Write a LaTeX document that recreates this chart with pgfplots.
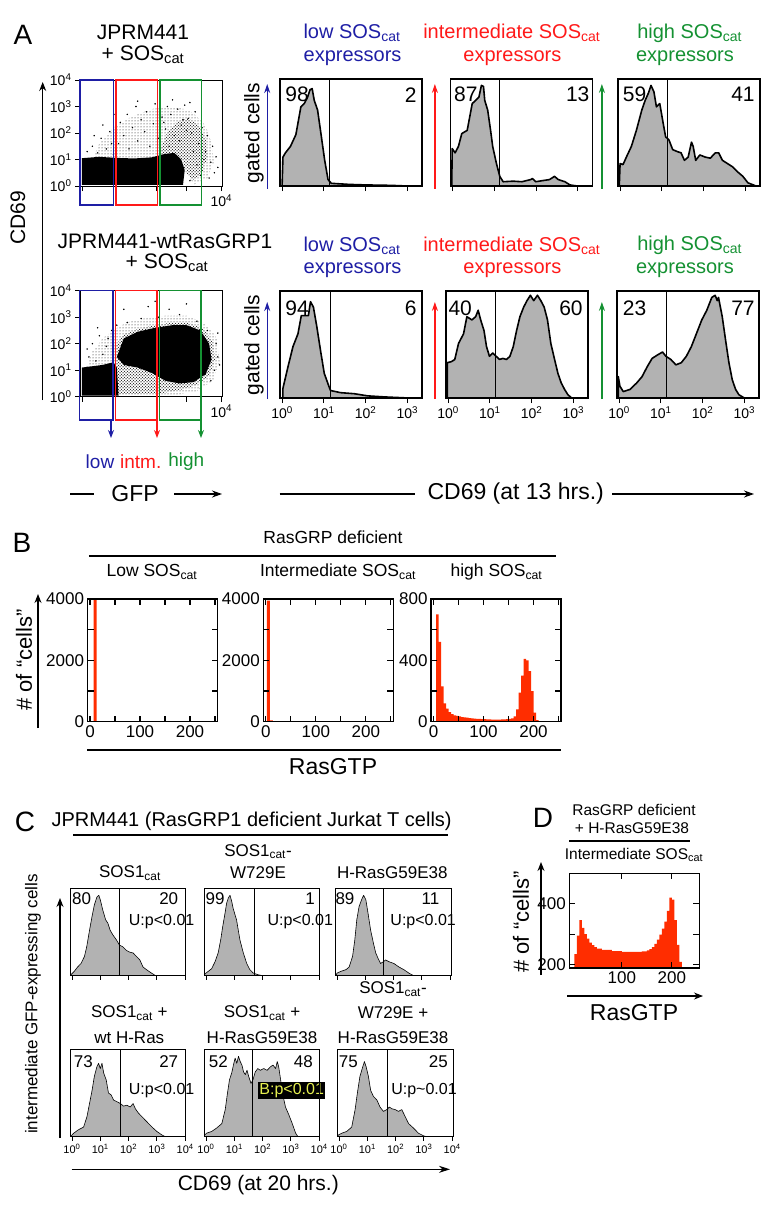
\documentclass[border=0pt]{standalone}
\usepackage{fontspec}
\setmainfont{Liberation Sans}
\usepackage{pgfplots}
\pgfplotsset{compat=1.18}
\usetikzlibrary{arrows.meta,patterns}

\definecolor{gblue}{RGB}{30,30,165}
\definecolor{gred}{RGB}{255,25,25}
\definecolor{ggreen}{RGB}{20,145,50}
\definecolor{hgray}{RGB}{178,178,178}
\definecolor{bred}{RGB}{255,45,0}
\definecolor{ylw}{RGB}{230,240,80}

\newcommand{\fs}[1]{\fontsize{#1pt}{#1pt}\selectfont}
\newcommand{\cat}{\textsubscript{cat}}
\newcommand{\dec}[1]{10\textsuperscript{#1}}

\tikzset{numA/.style={font=\fs{21}}, numC/.style={font=\fs{17}}, uC/.style={font=\fs{16}}}

\pgfplotsset{
  every axis/.append style={scale only axis, anchor=north west, axis on top, clip mode=individual},
  histA/.style={width=142pt, height=107pt, xmin=-0.05, xmax=3.35, ymin=0, ymax=1,
    ytick=\empty, xtick={0,1,2,3}, xticklabels={,,,}, xtick pos=left, tick align=outside,
    major tick length=5pt, axis line style={line width=1.6pt}, tick style={black,line width=1.1pt},
    tick label style={font=\fs{14}}},
  histAlab/.style={histA, xticklabels={\dec0,\dec1,\dec2,\dec3}},
  curveA/.style={draw=black, line width=1.6pt, fill=hgray, line join=round},
  scat/.style={width=142pt, height=106pt, xmin=-0.057, xmax=4.02, ymin=0, ymax=4,
    ytick={0,1,2,3,4}, yticklabels={\dec0,\dec1,\dec2,\dec3,\dec4},
    xtick={0,2.15,3,4}, xticklabels={,,,\dec4}, xtick pos=left, ytick pos=left,
    tick align=outside, major tick length=5pt, axis line style={line width=1pt},
    tick style={black,line width=0.9pt}, tick label style={font=\fs{14}}},
  histB/.style={width=130pt, height=122.7pt, xmin=-5, xmax=255, ymin=0,
    xtick={0,100,200}, xticklabels={0,100,200}, minor xtick={50,150,250},
    tick align=inside, major tick length=6pt, minor tick length=6pt,
    axis line style={line width=1.5pt}, tick style={black,line width=1.1pt},
    tick label style={font=\fs{17}}},
  histC/.style={width=116pt, height=87.4pt, xmin=-0.07, xmax=4.03, ymin=0, ymax=1,
    ytick=\empty, xtick={0,1,2,3,4}, xticklabels={,,,,}, xtick pos=left, tick align=outside,
    major tick length=4pt, axis line style={line width=1pt}, tick style={black,line width=0.8pt},
    tick label style={font=\fs{11}}},
  histClab/.style={histC, xticklabels={\dec0,\dec1,\dec2,\dec3,\dec4}},
  curveC/.style={draw=black, line width=0.6pt, fill=hgray, line join=round},
  sparse/.style={pattern=dots, pattern color=black, draw=none},
  medium/.style={pattern=crosshatch dots, pattern color=black, draw=none},
}

\begin{document}
\begin{tikzpicture}
\path[use as bounding box] (0pt,0pt) rectangle (772pt,-1207pt);

% ================= Panel A: scatter plots =================
\begin{axis}[scat, at={(80pt,-80pt)}]
\addplot[sparse] coordinates {(0.3,1.0)(0.5,1.6)(0.9,2.2)(1.4,2.6)(2.0,2.9)(2.6,3.0)(3.1,2.85)(3.5,2.4)(3.72,1.7)(3.78,0.9)(3.6,0.3)(3.2,0.05)(2.9,1.0)};
\addplot[medium] coordinates {(2.2,1.1)(2.4,1.9)(2.7,2.4)(3.05,2.55)(3.35,2.3)(3.55,1.8)(3.6,1.1)(3.45,0.5)(3.15,0.2)(2.95,0.6)(2.7,1.1)};
\addplot[fill=black, draw=none] coordinates {(0,0.04)(0,1.05)(0.5,1.1)(1.0,1.06)(1.5,1.04)(2.0,1.08)(2.35,1.2)(2.65,1.25)(2.85,1.0)(2.95,0.6)(2.9,0.04)};
\addplot[only marks, mark=*, mark size=0.5pt] coordinates {
(0.15,1.3)(0.3,1.5)(0.45,1.25)(0.55,1.8)(0.7,1.4)(0.8,2.05)(0.85,1.6)(0.6,2.3)(0.9,1.2)(0.35,1.9)
(1.05,1.6)(1.1,2.4)(1.2,1.9)(1.3,2.7)(1.35,1.4)(1.45,2.2)(1.55,3.0)(1.6,1.7)(1.7,2.5)(1.8,2.05)
(1.85,2.8)(1.95,1.5)(2.05,2.35)(2.1,3.1)(2.2,1.8)(2.3,2.6)(2.4,2.15)(2.45,3.0)(2.55,2.7)(2.65,1.9)
(2.75,2.9)(2.85,2.3)(2.95,3.05)(3.05,2.55)(3.15,2.0)(3.25,2.8)(3.35,1.6)(3.45,2.2)(3.55,1.3)(3.6,1.9)
(3.7,0.9)(3.75,1.5)(3.8,0.5)(3.85,1.1)(3.65,0.3)(3.9,0.7)(3.1,0.2)(3.3,0.8)(3.4,0.4)(3.5,1.0)
(3.2,1.3)(1.6,3.2)(2.6,3.25)(0.95,2.7)(3.1,3.15)(2.5,1.5)(2.8,1.7)(3.0,2.1)(2.35,2.4)(2.9,2.5)};
\end{axis}

\begin{axis}[scat, at={(80pt,-290.7pt)}]
\addplot[sparse] coordinates {(0.1,1.0)(0.3,1.7)(0.6,2.2)(0.95,2.55)(1.3,2.8)(1.8,2.95)(2.4,3.05)(3.0,3.05)(3.5,2.8)(3.88,2.2)(3.95,1.3)(3.75,0.6)(3.3,0.2)(2.6,0.05)(1.0,0.05)};
\addplot[medium] coordinates {(0.95,0.1)(0.95,1.9)(1.2,2.35)(1.6,2.55)(2.1,2.7)(2.6,2.8)(3.0,2.8)(3.45,2.6)(3.75,2.1)(3.82,1.4)(3.65,0.8)(3.3,0.45)(2.8,0.25)(2.2,0.12)};
\addplot[fill=black, draw=none] coordinates {(1.0,1.5)(1.2,2.2)(1.6,2.45)(2.1,2.6)(2.6,2.7)(3.0,2.7)(3.4,2.5)(3.65,2.0)(3.72,1.4)(3.55,0.85)(3.2,0.55)(2.8,0.5)(2.4,0.6)(2.0,0.9)(1.6,1.1)(1.2,1.2)};
\addplot[fill=black, draw=none] coordinates {(0,0.04)(0,1.1)(0.3,1.15)(0.6,1.2)(0.9,1.3)(1.0,1.1)(1.05,0.04)};
\addplot[only marks, mark=*, mark size=0.5pt] coordinates {
(0.3,2.0)(0.5,2.3)(0.7,1.9)(0.85,2.5)(0.2,1.5)(0.6,1.6)(1.0,2.7)(1.3,2.8)(1.7,2.95)(2.2,3.0)
(2.8,3.1)(3.3,2.85)(3.6,2.5)(3.85,2.0)(3.9,1.5)(3.8,1.0)(3.7,0.6)(3.4,0.3)(3.9,2.4)(2.5,3.3)
(1.9,3.4)(3.0,3.5)(3.5,0.9)(3.95,1.2)(0.15,1.8)(0.45,2.6)(2.1,3.6)(1.2,3.3)(0.4,1.35)(0.75,2.2)};
\end{axis}

% ================= Panel A: histograms, top row =================
\begin{axis}[histA, at={(280pt,-79pt)}]
\addplot[curveA] coordinates {(0,0)(0.02,0.27)(0.08,0.31)(0.20,0.37)(0.33,0.48)(0.45,0.74)(0.53,0.77)(0.61,0.83)(0.67,0.90)(0.72,0.91)(0.77,0.80)(0.85,0.71)(0.93,0.49)(1.02,0.24)(1.10,0.06)(1.18,0.025)(1.6,0.015)(2.0,0.01)(2.6,0.006)(3.0,0)} \closedcycle;
\addplot[black, line width=1pt] coordinates {(1.14,0)(1.14,1)};
\node[numA] at (rel axis cs:0.12,0.853) {98};
\node[numA] at (rel axis cs:0.92,0.853) {2};
\end{axis}

\begin{axis}[histA, at={(450.5pt,-79pt)}]
\addplot[curveA] coordinates {(-0.02,0)(-0.01,0.35)(0.06,0.31)(0.14,0.37)(0.22,0.49)(0.35,0.52)(0.47,0.77)(0.55,0.80)(0.63,0.83)(0.69,0.94)(0.74,0.93)(0.77,0.80)(0.84,0.71)(0.91,0.52)(0.96,0.37)(1.05,0.21)(1.13,0.09)(1.21,0.04)(1.45,0.045)(1.66,0.04)(1.87,0.06)(1.91,0.07)(1.99,0.04)(2.15,0.05)(2.32,0.06)(2.44,0.09)(2.53,0.06)(2.69,0.04)(2.81,0.01)(2.98,0)} \closedcycle;
\addplot[black, line width=1pt] coordinates {(1.13,0)(1.13,1)};
\node[numA] at (rel axis cs:0.108,0.853) {87};
\node[numA] at (rel axis cs:0.896,0.853) {13};
\end{axis}

\begin{axis}[histA, at={(618pt,-79pt)}]
\addplot[curveA] coordinates {(-0.02,0)(0.00,0.21)(0.07,0.20)(0.15,0.27)(0.27,0.37)(0.39,0.52)(0.52,0.71)(0.60,0.80)(0.68,0.87)(0.74,0.94)(0.81,0.88)(0.87,0.74)(0.95,0.77)(1.03,0.59)(1.09,0.46)(1.17,0.43)(1.26,0.34)(1.38,0.32)(1.46,0.31)(1.54,0.24)(1.63,0.27)(1.71,0.41)(1.75,0.37)(1.81,0.24)(1.91,0.29)(2.04,0.27)(2.16,0.26)(2.28,0.31)(2.36,0.31)(2.45,0.24)(2.57,0.21)(2.69,0.18)(2.82,0.13)(2.94,0.09)(3.06,0.03)(3.19,0.01)(3.25,0)} \closedcycle;
\addplot[black, line width=1pt] coordinates {(1.13,0)(1.13,1)};
\node[numA] at (rel axis cs:0.117,0.853) {59};
\node[numA] at (rel axis cs:0.88,0.853) {41};
\end{axis}

% ================= Panel A: histograms, bottom row =================
\begin{axis}[histAlab, at={(280pt,-291pt)}]
\addplot[curveA] coordinates {(0.02,0)(0.02,0.09)(0.14,0.29)(0.26,0.48)(0.38,0.60)(0.46,0.77)(0.63,0.77)(0.68,0.90)(0.75,0.85)(0.83,0.67)(0.93,0.42)(1.01,0.23)(1.12,0.11)(1.16,0.07)(1.40,0.05)(1.73,0.04)(2.05,0.02)(2.46,0.01)(3.03,0)} \closedcycle;
\addplot[black, line width=1pt] coordinates {(1.16,0)(1.16,1)};
\node[numA] at (rel axis cs:0.12,0.843) {94};
\node[numA] at (rel axis cs:0.92,0.843) {6};
\end{axis}

\begin{axis}[histAlab, at={(446pt,-291pt)}]
\addplot[curveA] coordinates {(-0.02,0)(-0.02,0.33)(0.08,0.34)(0.16,0.36)(0.25,0.51)(0.37,0.60)(0.45,0.76)(0.57,0.73)(0.66,0.76)(0.72,0.82)(0.78,0.73)(0.86,0.63)(0.92,0.48)(0.99,0.39)(1.07,0.42)(1.15,0.39)(1.23,0.36)(1.31,0.37)(1.40,0.36)(1.48,0.39)(1.56,0.48)(1.64,0.63)(1.72,0.76)(1.81,0.85)(1.89,0.91)(1.97,0.96)(2.05,0.91)(2.14,0.96)(2.22,0.91)(2.30,0.85)(2.38,0.73)(2.46,0.51)(2.55,0.36)(2.63,0.23)(2.71,0.14)(2.79,0.08)(2.87,0.03)(2.96,0)} \closedcycle;
\addplot[black, line width=1pt] coordinates {(1.13,0)(1.13,1)};
\node[numA] at (rel axis cs:0.10,0.843) {40};
\node[numA] at (rel axis cs:0.88,0.843) {60};
\end{axis}

\begin{axis}[histAlab, at={(617pt,-291pt)}]
\addplot[curveA] coordinates {(-0.02,0)(-0.02,0.20)(0.02,0.11)(0.10,0.06)(0.26,0.08)(0.42,0.14)(0.55,0.20)(0.67,0.29)(0.79,0.37)(0.91,0.40)(1.04,0.43)(1.12,0.39)(1.24,0.36)(1.36,0.31)(1.49,0.33)(1.61,0.39)(1.73,0.48)(1.85,0.60)(1.98,0.73)(2.10,0.82)(2.22,0.94)(2.30,0.96)(2.35,0.91)(2.38,0.94)(2.47,0.76)(2.55,0.54)(2.63,0.33)(2.71,0.17)(2.79,0.08)(2.87,0.03)(3.00,0)} \closedcycle;
\addplot[black, line width=1pt] coordinates {(1.14,0)(1.14,1)};
\node[numA] at (rel axis cs:0.124,0.843) {23};
\node[numA] at (rel axis cs:0.887,0.843) {77};
\end{axis}

% ================= Panel B =================
\begin{axis}[histB, at={(87.5pt,-599pt)}, ymax=4000, ytick={0,2000,4000}, yticklabels={0,2000,4000}, minor ytick={1000,3000}]
\addplot[const plot, fill=bred, draw=none] coordinates {(0,0)(7,4100)(13,0)(20,0)} \closedcycle;
\end{axis}

\begin{axis}[histB, at={(263.3pt,-599pt)}, ymax=4000, ytick={0,2000,4000}, yticklabels={0,2000,4000}, minor ytick={1000,3000}]
\addplot[const plot, fill=bred, draw=none] coordinates {(0,0)(2,3950)(8,40)(14,0)(20,0)} \closedcycle;
\end{axis}

\begin{axis}[histB, at={(431pt,-599pt)}, ymax=800, ytick={0,400,800}, yticklabels={0,400,800}, minor ytick={200,600}]
\addplot[const plot, fill=bred, draw=none] coordinates {(0,0)(5,700)(10,520)(15,230)(20,120)(25,85)(30,62)(35,50)(40,42)(45,38)(50,34)(55,30)(60,28)(65,26)(70,24)(75,22)(80,20)(85,19)(90,18)(95,17)(100,16)(105,15)(110,15)(115,14)(120,14)(125,14)(130,14)(135,15)(140,15)(145,16)(150,18)(155,22)(160,35)(165,80)(170,190)(175,300)(180,410)(185,400)(190,330)(195,200)(200,60)(205,10)(210,0)} \closedcycle;
\end{axis}

% ================= Panel C =================
\begin{axis}[histC, at={(70pt,-888.3pt)}]
\addplot[curveC] coordinates {(-0.07,0)(-0.04,0.01)(0.08,0.05)(0.20,0.10)(0.32,0.14)(0.44,0.22)(0.52,0.33)(0.62,0.52)(0.71,0.68)(0.79,0.81)(0.88,0.90)(0.95,0.92)(1.00,0.87)(1.09,0.75)(1.19,0.64)(1.27,0.60)(1.35,0.52)(1.44,0.47)(1.57,0.41)(1.68,0.35)(1.80,0.33)(1.92,0.29)(2.04,0.27)(2.16,0.26)(2.28,0.22)(2.40,0.18)(2.51,0.10)(2.63,0.07)(2.81,0.03)(2.96,0)} \closedcycle;
\addplot[black, line width=0.8pt] coordinates {(1.66,0)(1.66,1)};
\node[numC] at (rel axis cs:0.10,0.878) {80};
\node[numC, anchor=east] at (rel axis cs:0.963,0.878) {20};
\node[uC] at (rel axis cs:0.79,0.62) {U:p<0.01};
\end{axis}

\begin{axis}[histC, at={(204pt,-888.3pt)}]
\addplot[curveC] coordinates {(-0.04,0)(-0.04,0.02)(0.08,0.05)(0.20,0.08)(0.32,0.16)(0.43,0.26)(0.52,0.41)(0.59,0.56)(0.67,0.71)(0.73,0.83)(0.79,0.89)(0.85,0.92)(0.91,0.85)(0.96,0.77)(1.08,0.64)(1.20,0.41)(1.32,0.26)(1.44,0.14)(1.55,0.07)(1.67,0.03)(1.85,0.01)(2.02,0)} \closedcycle;
\addplot[black, line width=0.8pt] coordinates {(1.70,0)(1.70,1)};
\node[numC] at (rel axis cs:0.095,0.878) {99};
\node[numC, anchor=east] at (rel axis cs:0.985,0.878) {1};
\node[uC] at (rel axis cs:0.83,0.62) {U:p<0.01};
\end{axis}

\begin{axis}[histC, at={(335pt,-888.3pt)}]
\addplot[curveC] coordinates {(-0.04,0)(0.00,0.03)(0.14,0.05)(0.32,0.07)(0.43,0.10)(0.55,0.22)(0.63,0.41)(0.70,0.64)(0.78,0.79)(0.87,0.87)(0.94,0.92)(1.02,0.87)(1.10,0.71)(1.19,0.52)(1.29,0.37)(1.37,0.26)(1.45,0.20)(1.54,0.14)(1.64,0.16)(1.72,0.18)(1.84,0.16)(2.01,0.14)(2.19,0.10)(2.36,0.07)(2.54,0.03)(2.71,0)} \closedcycle;
\addplot[black, line width=0.8pt] coordinates {(1.64,0)(1.64,1)};
\node[numC] at (rel axis cs:0.086,0.878) {89};
\node[numC, anchor=east] at (rel axis cs:0.93,0.878) {11};
\node[uC] at (rel axis cs:0.76,0.62) {U:p<0.01};
\end{axis}

\begin{axis}[histClab, at={(70pt,-1049.3pt)}]
\addplot[curveC] coordinates {(-0.04,0)(0,0.02)(0.06,0.04)(0.23,0.08)(0.41,0.11)(0.53,0.23)(0.62,0.38)(0.71,0.53)(0.79,0.69)(0.88,0.80)(0.94,0.84)(1.00,0.78)(1.06,0.84)(1.12,0.73)(1.21,0.65)(1.29,0.50)(1.38,0.48)(1.47,0.42)(1.59,0.40)(1.71,0.38)(1.82,0.35)(1.94,0.36)(2.06,0.34)(2.16,0.38)(2.24,0.32)(2.35,0.27)(2.47,0.23)(2.65,0.17)(2.83,0.11)(3.00,0.06)(3.18,0.02)(3.30,0)} \closedcycle;
\addplot[black, line width=0.8pt] coordinates {(1.72,0)(1.72,1)};
\node[numC] at (rel axis cs:0.115,0.858) {73};
\node[numC, anchor=east] at (rel axis cs:0.963,0.858) {27};
\node[uC] at (rel axis cs:0.79,0.526) {U:p<0.01};
\end{axis}

\begin{axis}[histClab, at={(204pt,-1049.3pt)}]
\addplot[curveC] coordinates {(-0.06,0)(-0.04,0.02)(0.02,0.04)(0.20,0.06)(0.38,0.10)(0.56,0.15)(0.68,0.31)(0.76,0.50)(0.83,0.65)(0.91,0.73)(0.97,0.82)(1.03,0.90)(1.09,0.84)(1.15,0.92)(1.21,0.86)(1.27,0.82)(1.33,0.74)(1.39,0.71)(1.45,0.76)(1.51,0.69)(1.59,0.61)(1.66,0.65)(1.74,0.74)(1.83,0.78)(1.92,0.76)(2.04,0.78)(2.16,0.76)(2.28,0.80)(2.37,0.82)(2.46,0.78)(2.52,0.86)(2.57,0.80)(2.63,0.67)(2.73,0.46)(2.81,0.34)(2.93,0.25)(3.05,0.15)(3.17,0.04)(3.25,0)} \closedcycle;
\addplot[black, line width=0.8pt] coordinates {(1.65,0)(1.65,1)};
\node[numC] at (rel axis cs:0.123,0.858) {52};
\node[numC] at (rel axis cs:0.856,0.858) {48};
\node[uC, fill=black, text=ylw, inner sep=1.5pt] at (rel axis cs:0.756,0.526) {B:p<0.01};
\end{axis}

\begin{axis}[histClab, at={(337pt,-1049.3pt)}]
\addplot[curveC] coordinates {(-0.05,0)(-0.02,0.02)(0.10,0.04)(0.27,0.06)(0.45,0.11)(0.57,0.31)(0.65,0.50)(0.74,0.69)(0.84,0.80)(0.90,0.86)(0.96,0.80)(1.04,0.69)(1.12,0.53)(1.22,0.46)(1.34,0.42)(1.45,0.34)(1.57,0.29)(1.69,0.31)(1.78,0.34)(1.87,0.32)(1.99,0.31)(2.10,0.29)(2.22,0.31)(2.34,0.23)(2.46,0.15)(2.63,0.10)(2.81,0.04)(2.99,0.01)(3.11,0)} \closedcycle;
\addplot[black, line width=0.8pt] coordinates {(1.70,0)(1.70,1)};
\node[numC] at (rel axis cs:0.097,0.858) {75};
\node[numC] at (rel axis cs:0.873,0.858) {25};
\node[uC] at (rel axis cs:0.75,0.526) {U:p\textasciitilde0.01};
\end{axis}

% ================= Panel D =================
\begin{axis}[histB, at={(569.3pt,-873.3pt)}, height=94.7pt, ymin=190, ymax=497,
  xtick={100,200}, xticklabels={100,200}, minor xtick={}, ytick={200,400}, yticklabels={200,400}, minor ytick={300}]
\addplot[const plot, fill=bred, draw=none] coordinates {(0,0)(5,235)(10,295)(15,345)(20,320)(25,300)(30,285)(35,272)(40,264)(45,258)(50,253)(60,249)(80,245)(100,242)(120,242)(140,244)(150,247)(155,251)(160,258)(165,268)(170,282)(175,298)(180,318)(185,340)(190,375)(195,418)(200,412)(205,345)(210,265)(215,210)(220,0)(225,0)} \closedcycle;
\end{axis}

% ================= Annotations =================
\begin{scope}[x=1pt, y=-1pt]
% Panel A labels
\node[font=\fs{28}] at (23,35) {A};
\node[font=\fs{21}] at (143,32) {JPRM441};
\node[font=\fs{21}] at (143,55) {+ SOS\cat};
\node[font=\fs{21}] at (165,241) {JPRM441-wtRasGRP1};
\node[font=\fs{21}] at (167,263) {+ SOS\cat};
\node[font=\fs{21}, rotate=90] at (18,218) {CD69};
\draw[line width=1.2pt, -{Stealth[length=9pt,width=7pt]}] (42.7,400) -- (42.7,82);
% gates
\draw[gblue, line width=1.3pt] (80,80) rectangle (113.3,205);
\draw[gred, line width=1.3pt] (116,80) rectangle (157.3,205);
\draw[ggreen, line width=1.3pt] (160,80) rectangle (201.3,205);
\draw[gblue, line width=1.3pt] (79.5,290.5) rectangle (113,420);
\draw[gred, line width=1.3pt] (115.7,290.5) rectangle (157,420);
\draw[ggreen, line width=1.3pt] (159.3,290.5) rectangle (201,420);
\draw[gblue, line width=1.3pt, -{Stealth[length=8pt,width=6pt]}] (111,420) -- (111,438);
\draw[gred, line width=1.3pt, -{Stealth[length=8pt,width=6pt]}] (157,420) -- (157,438);
\draw[ggreen, line width=1.3pt, -{Stealth[length=8pt,width=6pt]}] (201,420) -- (201,438);
\node[font=\fs{19}, text=gblue] at (100,462) {low};
\node[font=\fs{19}, text=gred] at (140.7,462) {intm.};
\node[font=\fs{19}, text=ggreen] at (186.3,462) {high};
\draw[line width=1.2pt] (70.4,494) -- (94.4,494);
\node[font=\fs{23}] at (135,494) {GFP};
\draw[line width=1.2pt, -{Stealth[length=10pt,width=7pt]}] (174,494) -- (222,494);
\draw[line width=1.2pt] (279.6,494) -- (414.8,494);
\node[font=\fs{23}, anchor=west] at (424,494) {CD69 (at 13 hrs.)};
\draw[line width=1.2pt, -{Stealth[length=10pt,width=7pt]}] (612,494) -- (754,494);
% histogram titles
\foreach \yy/\zz in {33/58, 245.5/270}{
  \node[font=\fs{20}, text=gblue] at (352,\yy) {low SOS\cat};
  \node[font=\fs{20}, text=gblue] at (352.6,\zz) {expressors};
  \node[font=\fs{20}, text=gred] at (511.8,\yy) {intermediate SOS\cat};
  \node[font=\fs{20}, text=gred] at (512.4,\zz) {expressors};
  \node[font=\fs{20}, text=ggreen] at (689.7,\yy) {high SOS\cat};
  \node[font=\fs{20}, text=ggreen] at (685,\zz) {expressors};
}
\node[font=\fs{21}, rotate=90] at (254,133) {gated cells};
\node[font=\fs{21}, rotate=90] at (254,345) {gated cells};
\foreach \ya/\yb in {188.7/84, 399/302}{
  \draw[gblue, line width=1.2pt, -{Stealth[length=9pt,width=6pt]}] (267.2,\ya) -- (267.2,\yb);
  \draw[gred, line width=1.2pt, -{Stealth[length=9pt,width=6pt]}] (434.9,\ya) -- (434.9,\yb);
  \draw[ggreen, line width=1.2pt, -{Stealth[length=9pt,width=6pt]}] (601.9,\ya) -- (601.9,\yb);
}
% Panel B labels
\node[font=\fs{28}] at (22,543) {B};
\node[font=\fs{17.5}] at (333,537) {RasGRP deficient};
\draw[line width=1.2pt] (88.9,556) -- (555.6,556);
\node[font=\fs{17.5}] at (152,572) {Low SOS\cat};
\node[font=\fs{17.5}] at (338,572) {Intermediate SOS\cat};
\node[font=\fs{17.5}] at (496.5,572) {high SOS\cat};
\node[font=\fs{22}, rotate=90] at (24,660) {\# of “cells”};
\draw[line width=1.2pt, -{Stealth[length=9pt,width=7pt]}] (38,728) -- (38,594);
\draw[line width=1.2pt] (87.3,750) -- (561,750);
\node[font=\fs{23}] at (333,767) {RasGTP};
% Panel C labels
\node[font=\fs{28}] at (25,822) {C};
\node[font=\fs{20}, anchor=base west] at (48,826) {JPRM441 (RasGRP1 deficient Jurkat T cells)};
\draw[line width=1.2pt] (73,835) -- (448,835);
\node[font=\fs{17}] at (130,873) {SOS1\cat};
\node[font=\fs{17}] at (258,851.7) {SOS1\cat-};
\node[font=\fs{17}] at (258,873) {W729E};
\node[font=\fs{17}] at (392.3,873) {H-RasG59E38};
\node[font=\fs{17}] at (129.3,1013) {SOS1\cat\ +};
\node[font=\fs{17}] at (129.3,1038) {wt H-Ras};
\node[font=\fs{17}] at (262,1013) {SOS1\cat\ +};
\node[font=\fs{17}] at (262,1038) {H-RasG59E38};
\node[font=\fs{17}] at (393,989) {SOS1\cat-};
\node[font=\fs{17}] at (393,1013) {W729E +};
\node[font=\fs{17}] at (393,1038) {H-RasG59E38};
\node[font=\fs{17}, rotate=90] at (33,1004) {intermediate GFP-expressing cells};
\draw[line width=1.2pt, -{Stealth[length=9pt,width=7pt]}] (60,1138) -- (60,898);
\draw[line width=1.2pt, -{Stealth[length=11pt,width=7pt]}] (71.7,1169.3) -- (450,1169.3);
\node[font=\fs{21}] at (258.3,1185) {CD69 (at 20 hrs.)};
% Panel D labels
\node[font=\fs{28}] at (543,818) {D};
\node[font=\fs{15.5}] at (634,810) {RasGRP deficient};
\node[font=\fs{15.5}] at (632,828) {+ H-RasG59E38};
\draw[line width=1.2pt] (569,841) -- (690,841);
\node[font=\fs{15.5}] at (634,855) {Intermediate SOS\cat};
\node[font=\fs{22}, rotate=90] at (521,922) {\# of “cells”};
\draw[line width=1.2pt, -{Stealth[length=9pt,width=7pt]}] (541,975) -- (541,862);
\draw[line width=1.2pt, -{Stealth[length=9pt,width=7pt]}] (567,996) -- (703,996);
\node[font=\fs{23}] at (634,1013) {RasGTP};
\end{scope}
\end{tikzpicture}
\end{document}
